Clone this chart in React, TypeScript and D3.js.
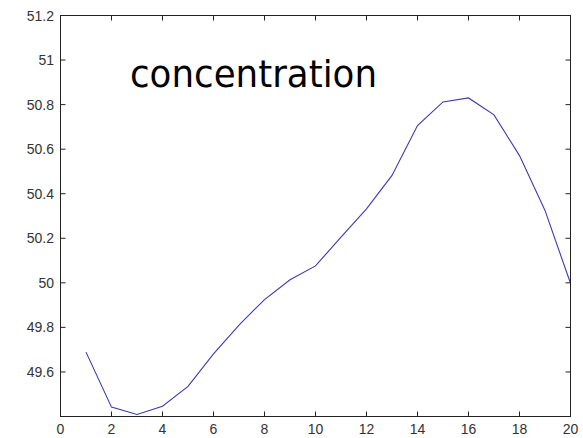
import React from "react";
import * as d3 from "d3";

const xValues = [1, 2, 3, 4, 5, 6, 7, 8, 9, 10, 11, 12, 13, 14, 15, 16, 17, 18, 19, 20];
const concentration = [49.689, 49.442, 49.409, 49.446, 49.535, 49.681, 49.81, 49.925, 50.014, 50.076, 50.205, 50.332, 50.482, 50.706, 50.812, 50.83, 50.754, 50.571, 50.325, 49.998];
const xTicks = [0, 2, 4, 6, 8, 10, 12, 14, 16, 18, 20];
const yTicks = [49.6, 49.8, 50, 50.2, 50.4, 50.6, 50.8, 51, 51.2];
const yTickLabels = ["49.6", "49.8", "50", "50.2", "50.4", "50.6", "50.8", "51", "51.2"];
const title = "concentration";

const W = 583, H = 438;
const L = 60.5, R = 570.5, T = 15.5, B = 416.5;

export default function App() {
  const x = d3.scaleLinear().domain([0, 20]).range([L, R]);
  const y = d3.scaleLinear().domain([49.4, 51.2]).range([B, T]);
  const line = d3.line<number>().x((_, i) => x(xValues[i])).y((d) => y(d));
  const tick = 5;
  const axisColor = "#222";
  const labelColor = "#333";
  return (
    <svg width={W} height={H} style={{ position: "absolute", left: 0, top: 0, background: "#fff" }}>
      <rect x={0} y={0} width={W} height={H} fill="#fff" />
      <path d={line(concentration) || ""} fill="none" stroke="#3a3ab4" strokeWidth={1.1} />
      <rect x={L} y={T} width={R - L} height={B - T} fill="none" stroke={axisColor} strokeWidth={1} />
      {xTicks.map((t) => (
        <g key={"x" + t}>
          <line x1={x(t)} x2={x(t)} y1={B} y2={B - tick} stroke={axisColor} />
          <line x1={x(t)} x2={x(t)} y1={T} y2={T + tick} stroke={axisColor} />
          <text x={x(t)} y={434} textAnchor="middle" fontFamily="Liberation Sans, Arial, sans-serif" fontSize={14} fill={labelColor}>{t}</text>
        </g>
      ))}
      {yTicks.map((t, i) => (
        <g key={"y" + t}>
          <line x1={L} x2={L + tick} y1={y(t)} y2={y(t)} stroke={axisColor} />
          <line x1={R} x2={R - tick} y1={y(t)} y2={y(t)} stroke={axisColor} />
          <text x={54} y={y(t) + 5} textAnchor="end" fontFamily="Liberation Sans, Arial, sans-serif" fontSize={14} fill={labelColor}>{yTickLabels[i]}</text>
        </g>
      ))}
      <text x={130} y={87} fontFamily="DejaVu Sans, sans-serif" fontSize={38} fill="#000" textLength={247} lengthAdjust="spacingAndGlyphs">{title}</text>
    </svg>
  );
}
